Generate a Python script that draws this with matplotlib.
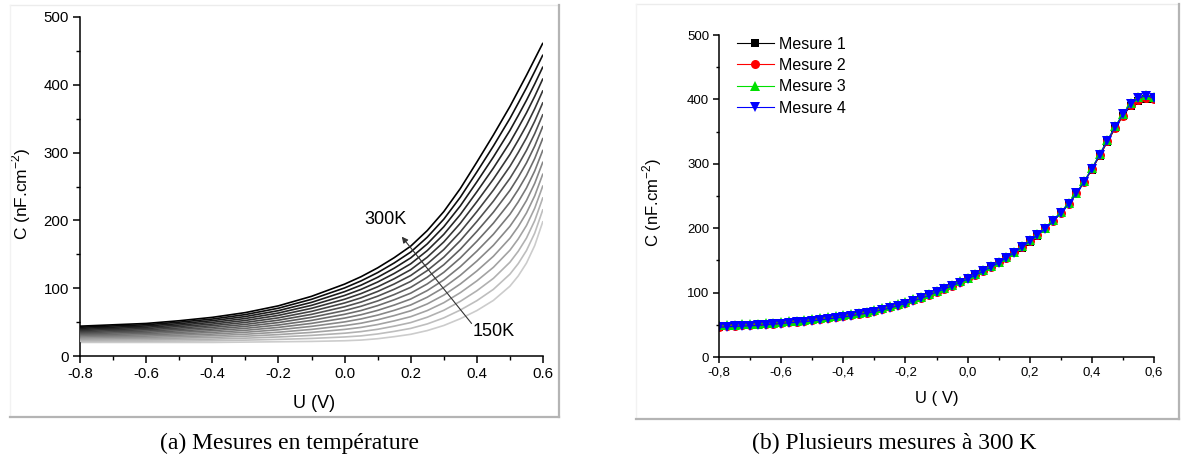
import numpy as np
import matplotlib
matplotlib.use("Agg")
import matplotlib.pyplot as plt
from matplotlib.lines import Line2D
from matplotlib.ticker import MultipleLocator, FuncFormatter

plt.rcParams['font.family'] = ['Liberation Sans', 'DejaVu Sans']
plt.rcParams['axes.unicode_minus'] = False

# ---------------- data: panel (a) ----------------
u_temp = [-0.8, -0.7, -0.6, -0.5, -0.4, -0.3, -0.2, -0.1, 0.0, 0.05, 0.1, 0.15, 0.2, 0.25,
          0.3, 0.35, 0.4, 0.45, 0.5, 0.525, 0.55, 0.575, 0.6]
temperatures = [150, 160, 170, 180, 190, 200, 210, 220, 230, 240, 250, 260, 270, 280, 290, 300]
c_150K = [20, 20, 20, 20, 20, 20.5, 21, 21.5, 22.5, 23.5, 25.5, 28.5, 32, 37.5, 45, 55, 67, 82, 103, 118, 137, 163, 199]
c_160K = [21.6, 21.7, 21.9, 22.1, 22.5, 23.4, 24.5, 25.9, 28.1, 29.7, 32.5, 36.3, 40.7, 47.3, 56.2, 67.8, 81.6, 98.3, 120.7, 136.2, 155.5, 181.3, 216.5]
c_170K = [23.2, 23.5, 23.7, 24.3, 24.9, 26.3, 28.1, 30.4, 33.6, 36.0, 39.4, 44.0, 49.3, 57.2, 67.4, 80.6, 96.2, 114.5, 138.3, 154.4, 173.9, 199.7, 234.1]
c_180K = [24.8, 25.2, 25.6, 26.4, 27.4, 29.2, 31.6, 34.8, 39.2, 42.2, 46.4, 51.8, 58.0, 67.0, 78.6, 93.4, 110.8, 130.8, 156.0, 172.6, 192.4, 218.0, 251.6]
c_190K = [26.4, 26.9, 27.5, 28.5, 29.9, 32.1, 35.1, 39.2, 44.8, 48.4, 53.4, 59.6, 66.7, 76.8, 89.8, 106.2, 125.4, 147.1, 173.7, 190.8, 210.9, 236.3, 269.1]
c_200K = [28.0, 28.7, 29.3, 30.7, 32.3, 35.0, 38.7, 43.7, 50.3, 54.7, 60.3, 67.3, 75.3, 86.7, 101.0, 119.0, 140.0, 163.3, 191.3, 209.0, 229.3, 254.7, 286.7]
c_210K = [29.6, 30.4, 31.2, 32.8, 34.8, 37.9, 42.2, 48.1, 55.9, 60.9, 67.3, 75.1, 84.0, 96.5, 112.2, 131.8, 154.6, 179.6, 209.0, 227.2, 247.8, 273.0, 304.2]
c_220K = [31.2, 32.1, 33.1, 34.9, 37.3, 40.8, 45.7, 52.5, 61.5, 67.1, 74.3, 82.9, 92.7, 106.3, 123.4, 144.6, 169.2, 195.9, 226.7, 245.4, 266.3, 291.3, 321.7]
c_230K = [32.8, 33.9, 34.9, 37.1, 39.7, 43.7, 49.3, 57.0, 67.0, 73.4, 81.2, 90.6, 101.3, 116.2, 134.6, 157.4, 183.8, 212.1, 244.3, 263.6, 284.7, 309.7, 339.3]
c_240K = [34.4, 35.6, 36.8, 39.2, 42.2, 46.6, 52.8, 61.4, 72.6, 79.6, 88.2, 98.4, 110.0, 126.0, 145.8, 170.2, 198.4, 228.4, 262.0, 281.8, 303.2, 328.0, 356.8]
c_250K = [36.0, 37.3, 38.7, 41.3, 44.7, 49.5, 56.3, 65.8, 78.2, 85.8, 95.2, 106.2, 118.7, 135.8, 157.0, 183.0, 213.0, 244.7, 279.7, 300.0, 321.7, 346.3, 374.3]
c_260K = [37.6, 39.1, 40.5, 43.5, 47.1, 52.4, 59.9, 70.3, 83.7, 92.1, 102.1, 113.9, 127.3, 145.7, 168.2, 195.8, 227.6, 260.9, 297.3, 318.2, 340.1, 364.7, 391.9]
c_270K = [39.2, 40.8, 42.4, 45.6, 49.6, 55.3, 63.4, 74.7, 89.3, 98.3, 109.1, 121.7, 136.0, 155.5, 179.4, 208.6, 242.2, 277.2, 315.0, 336.4, 358.6, 383.0, 409.4]
c_280K = [40.8, 42.5, 44.3, 47.7, 52.1, 58.2, 66.9, 79.1, 94.9, 104.5, 116.1, 129.5, 144.7, 165.3, 190.6, 221.4, 256.8, 293.5, 332.7, 354.6, 377.1, 401.3, 426.9]
c_290K = [42.4, 44.3, 46.1, 49.9, 54.5, 61.1, 70.5, 83.6, 100.4, 110.8, 123.0, 137.2, 153.3, 175.2, 201.8, 234.2, 271.4, 309.7, 350.3, 372.8, 395.5, 419.7, 444.5]
c_300K = [44, 46, 48, 52, 57, 64, 74, 88, 106, 117, 130, 145, 162, 185, 213, 247, 286, 326, 368, 391, 414, 438, 462]
curves_temp = [c_150K, c_160K, c_170K, c_180K, c_190K, c_200K, c_210K, c_220K,
               c_230K, c_240K, c_250K, c_260K, c_270K, c_280K, c_290K, c_300K]

# ---------------- data: panel (b) ----------------
u_300K = [-0.8 + 0.025 * i for i in range(57)]
mesure_1 = [47, 48, 48.5, 49, 49.5, 50, 51, 52, 53, 54, 55, 56, 57, 58.5, 60, 61.5, 63, 65, 67, 69,
            71.5, 74, 77, 80.5, 84, 88, 92, 96.5, 101.5, 106, 111, 116, 121.5, 127, 133, 139.5, 146,
            153.5, 161.5, 170, 179, 188.5, 199, 210.5, 223, 237, 253, 271, 291, 312, 334, 355, 374,
            390, 398, 401, 400]
mesure_2 = [47, 47.5, 48.5, 49, 49.5, 50.5, 51, 52, 53, 54, 55, 56, 57, 58.5, 60, 61.5, 63, 65, 67, 69,
            71.5, 74, 77, 80.5, 84, 88, 92, 96.5, 101.5, 106, 111, 116.5, 122, 127.5, 133.5, 140, 147,
            154.5, 162.5, 171, 180, 189.5, 200, 211.5, 224, 238, 254, 272, 292, 313, 335, 356, 375,
            391, 399, 402, 401]
mesure_3 = [49, 49.5, 50, 50.5, 51, 51.5, 52.5, 53.5, 54.5, 55.5, 56.5, 57.5, 58.5, 60, 61.5, 63, 64.5,
            66.5, 68.5, 70.5, 73, 75.5, 78.5, 82, 85.5, 89.5, 93.5, 98, 103, 107.5, 112.5, 117.5, 123,
            128.5, 134.5, 141, 148, 155.5, 163.5, 172, 181, 190.5, 201, 212.5, 225, 239, 255, 273, 293,
            315, 337, 358, 378, 394, 403, 407, 403]
mesure_4 = [46, 47, 47.5, 48, 48.5, 49, 50, 51, 52, 53, 54, 55, 56, 57.5, 59, 60.5, 62, 64, 66, 68,
            70.5, 73, 76, 79.5, 83, 87, 91, 95.5, 101, 105.5, 110.5, 115.5, 121, 127, 133, 139.5, 146.5,
            154, 162, 170.5, 179.5, 189, 199.5, 211, 224, 238, 254, 272, 292, 314, 336, 357, 377, 393,
            402, 406, 402]
series_labels = ["Mesure 1", "Mesure 2", "Mesure 3", "Mesure 4"]

W, H = 1181, 463
fig = plt.figure(figsize=(W / 100, H / 100), dpi=100)


def fx(px):
    return px / W


def fy(py):
    return 1 - py / H


# panel frames (light border with shadow)
def frame(x0, y0, x1, y1):
    fig.add_artist(Line2D([fx(x0), fx(x1)], [fy(y0), fy(y0)], color='#ececec', lw=1.0))
    fig.add_artist(Line2D([fx(x0), fx(x0)], [fy(y0), fy(y1)], color='#f2f2f2', lw=1.0))
    fig.add_artist(Line2D([fx(x1), fx(x1)], [fy(y0), fy(y1)], color='#b4b4b4', lw=1.6))
    fig.add_artist(Line2D([fx(x0), fx(x1)], [fy(y1), fy(y1)], color='#b4b4b4', lw=1.6))


frame(10, 5, 559, 417)
frame(636, 4, 1179, 419)

# ---------------- panel (a) ----------------
ax1 = fig.add_axes([fx(80), fy(356), 463 / W, 339 / H])
n = len(curves_temp)
for k, c in enumerate(curves_temp):
    g = 0.80 * (1 - k / (n - 1))
    ax1.plot(u_temp, c, color=(g, g, g), lw=1.2, zorder=2 + k,
             solid_joinstyle='round', solid_capstyle='butt')

ax1.set_xlim(-0.8, 0.6)
ax1.set_ylim(0, 500)
ax1.xaxis.set_major_locator(MultipleLocator(0.2))
ax1.xaxis.set_minor_locator(MultipleLocator(0.1))
ax1.yaxis.set_major_locator(MultipleLocator(100))
ax1.yaxis.set_minor_locator(MultipleLocator(50))
ax1.xaxis.set_major_formatter(FuncFormatter(lambda v, p: f"{v:.1f}" if abs(v) > 1e-9 else "0.0"))
for s in ['top', 'right']:
    ax1.spines[s].set_visible(False)
for s in ['left', 'bottom']:
    ax1.spines[s].set_linewidth(1.1)
ax1.tick_params(which='major', direction='out', length=5, width=1.1, labelsize=10.8, pad=3)
ax1.tick_params(which='minor', direction='out', length=3, width=1.0)
ax1.set_xlabel("U (V)", fontsize=13)
ax1.set_ylabel("C (nF.cm$^{\\mathregular{-2}}$)", fontsize=12.5)
ax1.xaxis.label.set_va('center')
ax1.yaxis.label.set_va('center')
ax1.xaxis.set_label_coords(0.505, (356 - 404) / 339)
ax1.yaxis.set_label_coords((21 - 80) / 463, 0.48)

ax1.annotate('', xy=(0.173, 176), xytext=(0.384, 48),
             arrowprops=dict(arrowstyle='-|>', color='#333333', lw=0.8, mutation_scale=9,
                             shrinkA=0, shrinkB=0), zorder=30)
ax1.text(0.125, 201, "300K", fontsize=13, ha='center', va='center', zorder=31)
ax1.text(0.388, 36, "150K", fontsize=13, ha='left', va='center', zorder=31)

# ---------------- panel (b) ----------------
ax2 = fig.add_axes([fx(719), fy(357), 435 / W, 322 / H])
styles = [('black', 's', 6), ('red', 'o', 6.5), ('#00e000', '^', 7.5), ('blue', 'v', 7.5)]
for (col, mk, ms), ys, lab in zip(styles, [mesure_1, mesure_2, mesure_3, mesure_4], series_labels):
    ax2.plot(u_300K, ys, color=col, lw=0.8, marker=mk, markersize=ms,
             markeredgewidth=0, label=lab)

ax2.set_xlim(-0.8, 0.6)
ax2.set_ylim(0, 500)
ax2.xaxis.set_major_locator(MultipleLocator(0.2))
ax2.xaxis.set_minor_locator(MultipleLocator(0.1))
ax2.yaxis.set_major_locator(MultipleLocator(100))
ax2.yaxis.set_minor_locator(MultipleLocator(50))
ax2.xaxis.set_major_formatter(FuncFormatter(
    lambda v, p: (f"{v:.1f}" if abs(v) > 1e-9 else "0.0").replace('.', ',')))
for s in ['top', 'right']:
    ax2.spines[s].set_visible(False)
for s in ['left', 'bottom']:
    ax2.spines[s].set_linewidth(1.1)
ax2.tick_params(which='major', direction='out', length=4, width=1.1, labelsize=9.5, pad=3)
ax2.tick_params(which='minor', direction='out', length=2.5, width=1.0)
ax2.set_xlabel("U ( V)", fontsize=12)
ax2.set_ylabel("C (nF.cm$^{\\mathregular{-2}}$)", fontsize=12)
ax2.xaxis.label.set_va('center')
ax2.yaxis.label.set_va('center')
ax2.xaxis.set_label_coords(0.501, (357 - 398) / 322)
ax2.yaxis.set_label_coords((652 - 719) / 435, 0.48)

leg = ax2.legend(loc='upper left', bbox_to_anchor=(0.041, 0.995), frameon=False,
                 borderpad=0, borderaxespad=0, handlelength=2.3, handletextpad=0.35,
                 labelspacing=0.4, fontsize=11.5)

# ---------------- captions ----------------
cap_font = ['Liberation Serif', 'DejaVu Serif']
fig.text(fx(289), fy(443), "(a) Mesures en température", ha='center', va='center',
         fontsize=17, family=cap_font)
fig.text(fx(894), fy(443), "(b) Plusieurs mesures à 300 K", ha='center', va='center',
         fontsize=17, family=cap_font)

fig.savefig("out.png", dpi=100)
